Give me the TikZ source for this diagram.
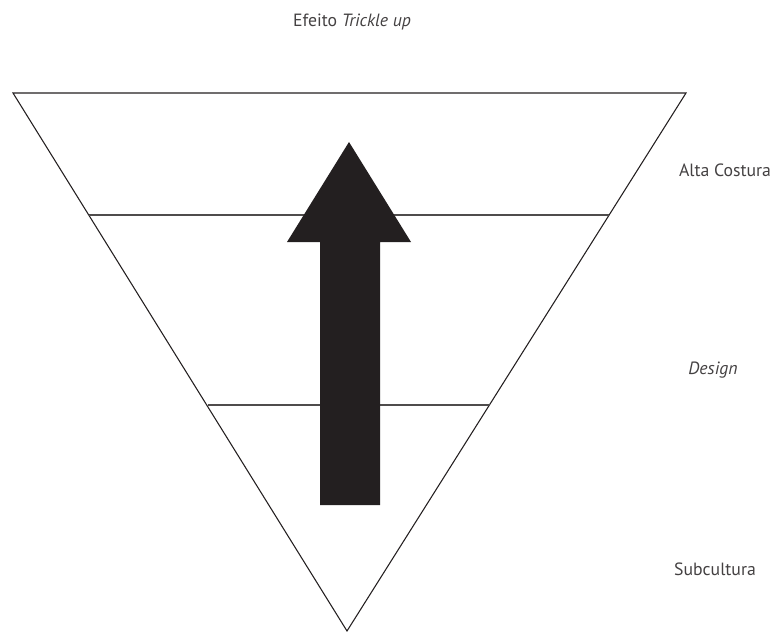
\documentclass[tikz,border=0pt]{standalone}
\usepackage{fontspec}
\setmainfont{PT Sans}
\definecolor{tinta}{HTML}{231F20}
\begin{document}
\begin{tikzpicture}[x=0.75pt, y=-0.75pt,
    rotulo/.style={font=\fontsize{13.3}{15}\selectfont, text=tinta!85, inner sep=0pt},
    linha/.style={tinta, line width=0.8pt}]
    \useasboundingbox (0,0) rectangle (777,631);

    % 1. Triângulo invertido
    \draw[linha, line join=miter] (13,93) -- (686,93) -- (347,631) -- cycle;

    % Linhas horizontais que dividem os níveis
    \draw[linha, tinta!80] (89,215) -- (609,215);
    \draw[linha, tinta!80] (208,405) -- (490,405);

    % 2. Seta preta para cima
    \fill[tinta] (320,505) -- (320,242) -- (287,242) -- (349,142)
        -- (411,242) -- (380,242) -- (380,505) -- cycle;

    % 3. Título e nomes dos níveis
    \node[rotulo] (titulo) at (352,22) {Efeito \textit{Trickle up}};
    \node[rotulo] (alta) at (725,170) {Alta Costura};
    \node[rotulo] (design) at (713,370) {\textit{Design}};
    \node[rotulo] (sub) at (715,569) {Subcultura};

\end{tikzpicture}
\end{document}
